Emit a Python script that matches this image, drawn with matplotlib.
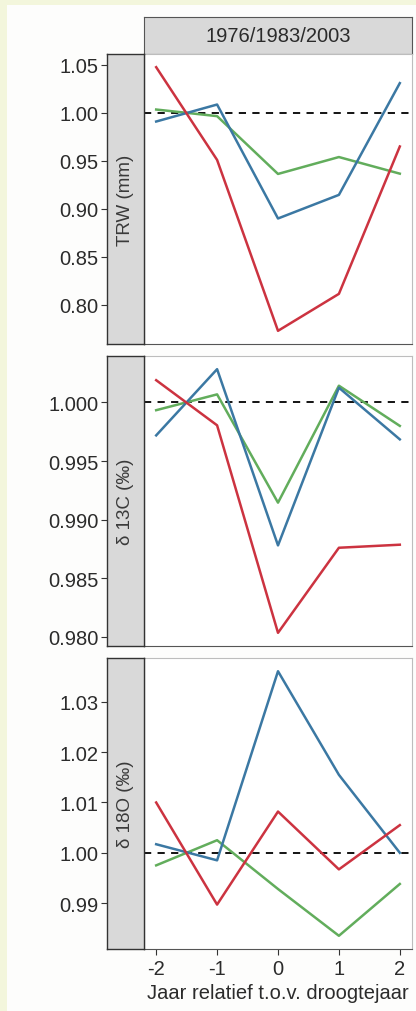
import matplotlib.pyplot as plt
import numpy as np

plt.rcParams["font.family"] = ["Liberation Sans", "DejaVu Sans"]

years = [-2, -1, 0, 1, 2]
facet_title = "1976/1983/2003"
xlabel = "Jaar relatief t.o.v. droogtejaar"

panel_labels = ["TRW (mm)", "δ 13C (‰)", "δ 18O (‰)"]

trw_red = [1.0476, 0.951, 0.773, 0.8115, 0.965]
trw_blue = [0.991, 1.0087, 0.890, 0.9146, 1.031]
trw_green = [1.0035, 0.9966, 0.9364, 0.954, 0.9367]

c13_red = [1.0019, 0.99805, 0.98034, 0.9876, 0.98786]
c13_blue = [0.99719, 1.00284, 0.9878, 1.00126, 0.99685]
c13_green = [0.99934, 1.00069, 0.99145, 1.00143, 0.998]

o18_red = [1.010, 0.9897, 1.0082, 0.9967, 1.0055]
o18_blue = [1.0017, 0.9985, 1.0361, 1.0155, 1.000]
o18_green = [0.9975, 1.0025, 0.9928, 0.9835, 0.9938]

yticks = [
    [0.80, 0.85, 0.90, 0.95, 1.00, 1.05],
    [0.980, 0.985, 0.990, 0.995, 1.000],
    [0.99, 1.00, 1.01, 1.02, 1.03],
]
yfmt = ["{:.2f}", "{:.3f}", "{:.2f}"]

series = [
    (trw_red, trw_blue, trw_green),
    (c13_red, c13_blue, c13_green),
    (o18_red, o18_blue, o18_green),
]
colors = ["#cc3340", "#3b78a3", "#62ad5c"]

W, H = 416, 1012
fig = plt.figure(figsize=(W / 100, H / 100), dpi=100)
fig.patch.set_facecolor("#f3f6dc")
fig.add_artist(plt.Rectangle((7 / W, 0), 1, 1 - 6 / H, transform=fig.transFigure,
                             facecolor="#fdfdfc", edgecolor="none", zorder=0))


def fx(px):
    return px / W


def fy(px):
    return 1 - px / H


panel_left, panel_right = 144, 412
strip_left = 107
panels_y = [(55, 345), (357, 647), (659, 950)]
text_col = "#2b2b2b"

# top strip
sax = fig.add_axes([fx(panel_left), fy(55), fx(panel_right - panel_left), (55 - 18) / H])
sax.set_facecolor("#d9d9d9")
sax.set_xticks([])
sax.set_yticks([])
for s in sax.spines.values():
    s.set_color("#555555")
    s.set_linewidth(0.8)
sax.text(0.5, 0.5, facet_title, ha="center", va="center", fontsize=14.5,
         color=text_col, transform=sax.transAxes)

for i, (top, bot) in enumerate(panels_y):
    red, blue, green = series[i]
    allv = np.array(red + blue + green)
    lo, hi = allv.min(), allv.max()
    pad = (hi - lo) * 0.05
    ylim = (lo - pad, hi + pad)

    ax = fig.add_axes([fx(panel_left), fy(bot), fx(panel_right - panel_left), (bot - top) / H])
    ax.set_facecolor("white")
    ax.set_xlim(-2.2, 2.2)
    ax.set_ylim(*ylim)
    ax.axhline(1.0, color="black", linestyle=(0, (4, 3.5)), linewidth=1.3, zorder=2)
    for vals, c in zip((green, blue, red), (colors[2], colors[1], colors[0])):
        ax.plot(years, vals, color=c, linewidth=1.8, zorder=3)
    ax.set_yticks([])
    for s in ax.spines.values():
        s.set_color("#bdbdbd")
        s.set_linewidth(0.8)
    ax.spines["left"].set_color("#333333")
    ax.spines["bottom"].set_color("#555555")
    if i < 2:
        ax.set_xticks([])
    else:
        ax.set_xticks(years)
        ax.set_xticklabels([str(y) for y in years], fontsize=14.5, color=text_col)
        ax.tick_params(axis="x", length=4, width=0.8, color="#333333", pad=3)
        ax.set_xlabel(xlabel, fontsize=14.5, color=text_col, labelpad=4)

    # left strip with y axis
    lax = fig.add_axes([fx(strip_left), fy(bot), fx(panel_left - strip_left), (bot - top) / H])
    lax.set_facecolor("#d9d9d9")
    lax.set_ylim(*ylim)
    lax.set_xticks([])
    lax.set_yticks(yticks[i])
    lax.set_yticklabels([yfmt[i].format(v) for v in yticks[i]], fontsize=14.5, color=text_col)
    lax.tick_params(axis="y", length=4, width=0.8, color="#333333", pad=2)
    for s in lax.spines.values():
        s.set_color("#333333")
        s.set_linewidth(1.0)
    lax.text(0.5, 0.5, panel_labels[i], rotation=90, ha="center", va="center",
             fontsize=13.5, color="#3a3a3a", transform=lax.transAxes)

fig.savefig("out.png", dpi=100, facecolor=fig.get_facecolor())
